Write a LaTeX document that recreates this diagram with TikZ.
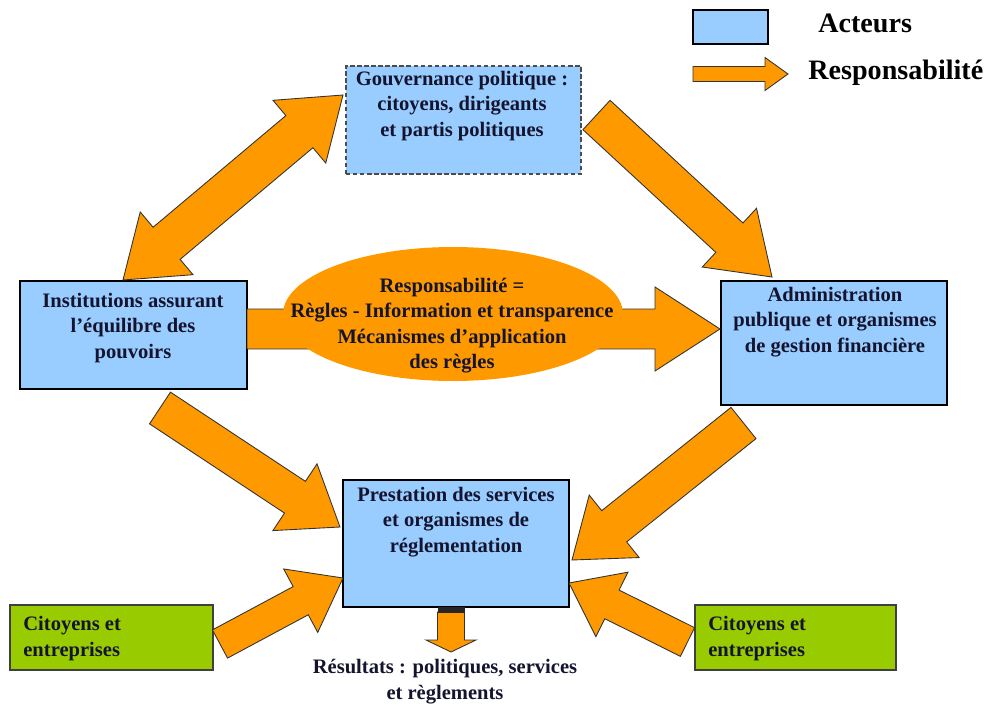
\documentclass[tikz,border=0pt]{standalone}
\usepackage{fontspec}
\setmainfont{Liberation Serif}
\usetikzlibrary{calc, positioning, shapes.geometric}

\definecolor{actorblue}{HTML}{99CCFF}
\definecolor{resporange}{HTML}{FF9900}
\definecolor{citgreen}{HTML}{99CC00}
\definecolor{inkdark}{HTML}{14142E}

\tikzset{
  actor/.style={draw=black, line width=1.6pt, fill=actorblue, inner sep=0pt},
  citizen/.style={draw=black!75, line width=0.6pt, fill=citgreen, inner sep=0pt},
  boxtext/.style={font=\fontsize{11.7}{14.5}\selectfont\bfseries, text=inkdark, align=center, inner sep=0pt},
  legendtext/.style={font=\fontsize{16}{19}\selectfont\bfseries, text=black, inner sep=0pt},
  resparrow/.style={draw=black!80, line width=0.5pt, fill=resporange, line join=miter},
}

% block arrow: tail, tip, shaft half width, head length, head half width
\newcommand{\fatarrow}[5]{%
  \coordinate (fa-n) at ($(#2)!#4!(#1)$);
  \filldraw[resparrow] ($(#1)!#3!90:(#2)$) -- ($(fa-n)!#3!90:(#2)$)
    -- ($(fa-n)!#5!90:(#2)$) -- (#2) -- ($(fa-n)!#5!-90:(#2)$)
    -- ($(fa-n)!#3!-90:(#2)$) -- ($(#1)!#3!-90:(#2)$) -- cycle;
}
% block arrow with two heads
\newcommand{\twinarrow}[5]{%
  \coordinate (ta-m) at ($(#1)!#4!(#2)$);
  \coordinate (ta-n) at ($(#2)!#4!(#1)$);
  \filldraw[resparrow] (#1) -- ($(ta-m)!#5!90:(#2)$) -- ($(ta-m)!#3!90:(#2)$)
    -- ($(ta-n)!#3!90:(#2)$) -- ($(ta-n)!#5!90:(#2)$) -- (#2)
    -- ($(ta-n)!#5!-90:(#2)$) -- ($(ta-n)!#3!-90:(#2)$)
    -- ($(ta-m)!#3!-90:(#2)$) -- ($(ta-m)!#5!-90:(#2)$) -- cycle;
}

\begin{document}
\begin{tikzpicture}[x=0.02cm, y=-0.02cm]

    \fill[white] (0,0) rectangle (992,706);
    \useasboundingbox (0,0) rectangle (992,706);

    % ============================================================
    % ACTORS
    % ============================================================
    \node[actor, dashed, draw=black!70, line width=0.7pt, dash pattern=on 2.5pt off 1.5pt,
          minimum width=4.7cm, minimum height=2.16cm] (gouv) at (463.5,120) {};
    \node[actor, minimum width=4.54cm, minimum height=2.16cm] (inst) at (133.5,335) {};
    \node[actor, minimum width=4.52cm, minimum height=2.48cm] (admin) at (834,343) {};
    \node[actor, minimum width=4.52cm, minimum height=2.54cm] (prest) at (456,543.5) {};
    \node[citizen, minimum width=4.06cm, minimum height=1.3cm] (citl) at (111.5,637.5) {};
    \node[citizen, minimum width=4.02cm, minimum height=1.3cm] (citr) at (795.5,637.5) {};

    % ============================================================
    % RESPONSIBILITY ARROWS
    % ============================================================
    \coordinate (ig-a) at (123,280);
    \coordinate (ig-b) at (343,95);
    \twinarrow{ig-a}{ig-b}{0.42cm}{1.14cm}{0.82cm}

    \coordinate (ga-tail) at (596.5,115);
    \coordinate (ga-tip) at (772,277);
    \fatarrow{ga-tail}{ga-tip}{0.4cm}{1.16cm}{0.8cm}

    \coordinate (ip-tail) at (160,408);
    \coordinate (ip-tip) at (340,527);
    \fatarrow{ip-tail}{ip-tip}{0.38cm}{1.08cm}{0.8cm}

    \coordinate (ap-tail) at (743.5,423);
    \coordinate (ap-tip) at (572,560);
    \fatarrow{ap-tail}{ap-tip}{0.4cm}{1.08cm}{0.8cm}

    \coordinate (cl-tail) at (220,644);
    \coordinate (cl-tip) at (343,578);
    \fatarrow{cl-tail}{cl-tip}{0.32cm}{0.96cm}{0.72cm}

    \coordinate (cr-tail) at (687.5,642);
    \coordinate (cr-tip) at (569,583);
    \fatarrow{cr-tail}{cr-tip}{0.32cm}{0.96cm}{0.72cm}

    \coordinate (ia-tail) at (247,329);
    \coordinate (ia-tip) at (720,329);
    \fatarrow{ia-tail}{ia-tip}{0.4cm}{1.3cm}{0.84cm}

    % results
    \coordinate (res-tail) at (451,612);
    \coordinate (res-tip) at (451,652);
    \fatarrow{res-tail}{res-tip}{0.27cm}{0.24cm}{0.5cm}
    \fill[black!85] (438,607) rectangle (465,613);

    % ============================================================
    % CENTRAL ELLIPSE
    % ============================================================
    \node[ellipse, fill=resporange, minimum width=6.8cm, minimum height=2.68cm,
          inner sep=0pt] (resp) at (453,314) {};
    \node[boxtext] (resptext) at (452,325.5)
        {Responsabilité =\\Règles - Information et transparence\\Mécanismes d’application\\des règles};

    % ============================================================
    % BOX TEXTS
    % ============================================================
    \node[boxtext] (gouvtext) at (462,106)
        {Gouvernance politique :\\citoyens, dirigeants\\et partis politiques};
    \node[boxtext] (insttext) at (133,328)
        {Institutions assurant\\l’équilibre des\\pouvoirs};
    \node[boxtext] (admintext) at (835,322)
        {Administration\\publique et organismes\\de gestion financière};
    \node[boxtext] (presttext) at (456,522)
        {Prestation des services\\et organismes de\\réglementation};
    \node[boxtext, align=left, anchor=west] (citltext) at (23,638.5)
        {Citoyens et\\entreprises};
    \node[boxtext, align=left, anchor=west] (citrtext) at (708,638.5)
        {Citoyens et\\entreprises};
    \node[boxtext] (restext) at (445,681.5)
        {Résultats : politiques, services\\et règlements};

    % ============================================================
    % LEGEND
    % ============================================================
    \node[actor, minimum width=1.5cm, minimum height=0.68cm] (keybox) at (730.5,27) {};
    \node[legendtext, anchor=west] (keyactors) at (818,23) {Acteurs};
    \coordinate (key-tail) at (693,74);
    \coordinate (key-tip) at (788,74);
    \fatarrow{key-tail}{key-tip}{0.15cm}{0.46cm}{0.33cm}
    \node[legendtext, anchor=west] (keyresp) at (808,73) {Responsabilité};

\end{tikzpicture}
\end{document}
